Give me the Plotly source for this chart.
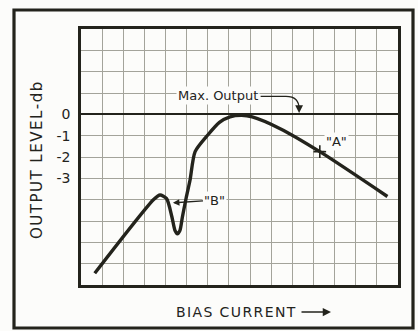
import plotly.graph_objects as go

# Output level versus bias current (one grid square = 1 dB vertically)
bias = [0.65, 3.45, 3.74, 4.05, 4.3, 4.45, 4.56, 4.68, 4.8, 4.98, 5.16, 5.4,
        6.0, 6.55, 7.05, 7.6, 8.1, 9.4, 11.3, 14.5]
level_db = [-7.45, -3.98, -3.78, -3.95, -4.8, -5.45, -5.6, -5.45, -4.8, -3.9,
            -3.08, -1.75, -0.97, -0.38, -0.12, -0.05, -0.12, -0.66, -1.75, -3.85]

point_a = (11.3, -1.75)
y_tick_vals = [0, -1, -2, -3]
y_tick_text = ["0", "-1", "-2", "-3"]

INK = "#23231c"
GRID = "#a3a39a"
FONT = "DejaVu Sans"

W, H = 418, 331
ML, MR, MT, MB = 81, 20, 29, 46
PW, PH = W - ML - MR, H - MT - MB


def px_to_paper(px, py):
    return (px - ML) / PW, (H - MB - py) / PH


fig = go.Figure()

fig.add_trace(go.Scatter(
    x=bias, y=level_db, mode="lines",
    line=dict(color=INK, width=3.4, shape="spline", smoothing=0.7),
    hoverinfo="skip", showlegend=False,
))
fig.add_trace(go.Scatter(
    x=[point_a[0]], y=[point_a[1]], mode="markers",
    marker=dict(symbol="cross-thin", size=9, line=dict(color=INK, width=1.6)),
    hoverinfo="skip", showlegend=False,
))

# "Max. Output" label and its curved leader down to the 0 dB line
fig.add_annotation(x=6.48, y=0.88, text="Max. Output", showarrow=False,
                   font=dict(family=FONT, size=13, color=INK),
                   bgcolor="#fcfcfa", borderpad=1)
fig.add_shape(type="path", xref="x", yref="y",
              path="M 8.5,0.84 L 9.7,0.84 Q 10.32,0.84 10.32,0.25",
              line=dict(color=INK, width=1.3))
fig.add_annotation(x=10.32, y=0.06, ax=10.32, ay=0.3, axref="x", ayref="y",
                   text="", showarrow=True, arrowhead=2, arrowsize=1.2,
                   arrowwidth=1.3, arrowcolor=INK)

# "B" and "A" labels
fig.add_annotation(x=4.35, y=-4.15, ax=6.34, ay=-4.02, axref="x", ayref="y",
                   text='"B"', showarrow=True, arrowhead=2, arrowsize=1,
                   arrowwidth=1.3, arrowcolor=INK,
                   font=dict(family=FONT, size=13, color=INK),
                   bgcolor="#fcfcfa")
fig.add_annotation(x=12.1, y=-1.28, text='"A"', showarrow=False,
                   font=dict(family=FONT, size=13, color=INK),
                   bgcolor="#fcfcfa")

# Axis titles
hs = "\u200a"
ytitle = hs.join("OUTPUT LEVEL-db")
xtitle = hs.join("BIAS CURRENT")
tx, ty = px_to_paper(36.5, 160.5)
fig.add_annotation(xref="paper", yref="paper", x=tx, y=ty, text=ytitle,
                   xanchor="center", yanchor="middle",
                   textangle=-90, showarrow=False,
                   font=dict(family=FONT, size=15, color=INK))
tx, ty = px_to_paper(236, 312)
fig.add_annotation(xref="paper", yref="paper", x=tx, y=ty, text=xtitle,
                   xanchor="center", yanchor="middle",
                   showarrow=False, font=dict(family=FONT, size=14, color=INK))
hx, hy = px_to_paper(331, 312)
fig.add_annotation(xref="paper", yref="paper", x=hx, y=hy,
                   ax=-31, ay=0,
                   text="", showarrow=True, arrowhead=2, arrowsize=1.1,
                   arrowwidth=1.5, arrowcolor=INK)

# Outer frame round the whole figure
x0, y0 = px_to_paper(14, 328)
x1, y1 = px_to_paper(413, 10)
fig.add_shape(type="rect", xref="paper", yref="paper", x0=x0, y0=y0, x1=x1, y1=y1,
              line=dict(color=INK, width=3.2), layer="above")

fig.update_xaxes(range=[0, 15], dtick=1, showticklabels=False, ticks="",
                 showgrid=True, gridcolor=GRID, gridwidth=1,
                 zeroline=False, showline=True, linecolor=INK, linewidth=2.5,
                 mirror=True, fixedrange=True)
fig.update_yaxes(range=[-8, 4], tickmode="array",
                 tickvals=list(range(-8, 5)),
                 ticktext=[y_tick_text[y_tick_vals.index(v)] if v in y_tick_vals else ""
                           for v in range(-8, 5)],
                 tickfont=dict(family=FONT, size=14, color=INK),
                 ticks="", ticklabelstandoff=5,
                 showgrid=True, gridcolor=GRID, gridwidth=1,
                 zeroline=True, zerolinecolor=INK, zerolinewidth=2,
                 showline=True, linecolor=INK, linewidth=2.5, mirror=True,
                 fixedrange=True)

fig.update_layout(width=W, height=H,
                  margin=dict(l=ML, r=MR, t=MT, b=MB),
                  paper_bgcolor="#fcfcfa", plot_bgcolor="#fcfcfa",
                  showlegend=False)

fig.write_html("out.html", config={"displayModeBar": False})
